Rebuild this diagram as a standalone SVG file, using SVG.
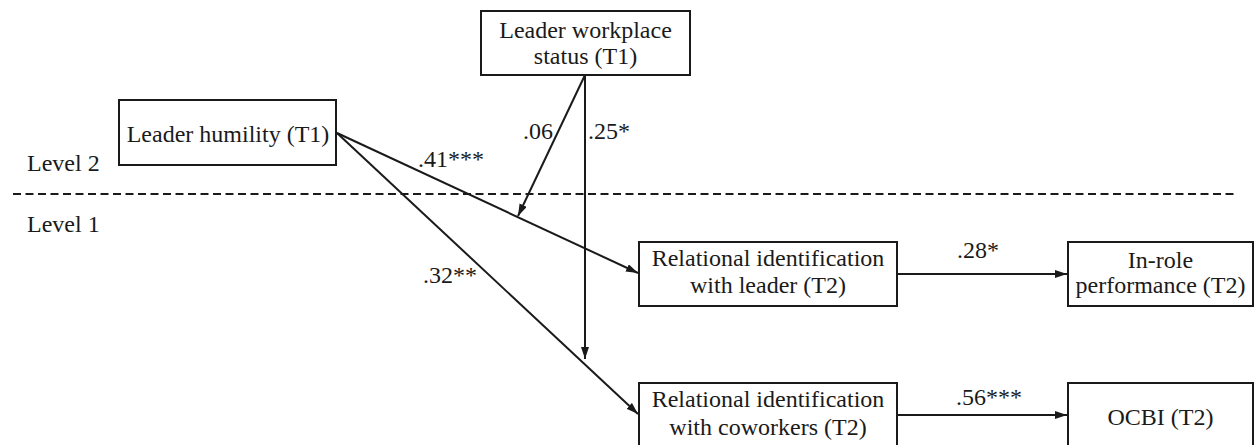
<svg xmlns="http://www.w3.org/2000/svg" width="1255" height="445" viewBox="0 0 1255 445">
<style>
.box{fill:#fff;stroke:#1a1a1a;stroke-width:2}
.t{font-family:'Liberation Serif','DejaVu Serif',serif;font-size:24px;fill:#1a1a1a}
.m{text-anchor:middle}
.ln{stroke:#1a1a1a;stroke-width:2;fill:none}
</style>
<defs>
<marker id="ah" markerUnits="userSpaceOnUse" markerWidth="14" markerHeight="10" refX="12" refY="4" orient="auto">
<path d="M0,0 L12,4 L0,8 Z" fill="#1a1a1a"/>
</marker>
</defs>
<rect width="1255" height="445" fill="#fff"/>
<g id="levels">
<line x1="13" y1="194" x2="1235" y2="194" class="ln" stroke-dasharray="8,4.5"/>
<text class="t" x="27" y="171">Level 2</text>
<text class="t" x="27" y="232">Level 1</text>
</g>
<g id="connectors">
<line class="ln" x1="337" y1="133" x2="638" y2="273" marker-end="url(#ah)"/>
<line class="ln" x1="337" y1="133" x2="638" y2="414" marker-end="url(#ah)"/>
<line class="ln" x1="585" y1="75" x2="518" y2="216" marker-end="url(#ah)"/>
<line class="ln" x1="585" y1="75" x2="585" y2="359" marker-end="url(#ah)"/>
<line class="ln" x1="897" y1="274" x2="1067" y2="274" marker-end="url(#ah)"/>
<line class="ln" x1="897" y1="415" x2="1067" y2="415" marker-end="url(#ah)"/>
<text class="t" x="418" y="167">.41***</text>
<text class="t" x="523" y="139">.06</text>
<text class="t" x="588" y="139">.25*</text>
<text class="t" x="423" y="283">.32**</text>
<text class="t" x="957" y="258">.28*</text>
<text class="t" x="956" y="405">.56***</text>
</g>
<g id="leader-status">
<rect class="box" x="481" y="11" width="209" height="64"/>
<text class="t m" x="585.5" y="38">Leader workplace</text>
<text class="t m" x="585.5" y="64">status (T1)</text>
</g>
<g id="leader-humility">
<rect class="box" x="119" y="100" width="217" height="65"/>
<text class="t m" x="228" y="142">Leader humility (T1)</text>
</g>
<g id="rel-leader">
<rect class="box" x="639" y="242" width="258" height="64"/>
<text class="t m" x="768" y="266">Relational identification</text>
<text class="t m" x="768" y="293">with leader (T2)</text>
</g>
<g id="rel-coworkers">
<rect class="box" x="639" y="383" width="258" height="66"/>
<text class="t m" x="768" y="407">Relational identification</text>
<text class="t m" x="768" y="435">with coworkers (T2)</text>
</g>
<g id="in-role">
<rect class="box" x="1068" y="242" width="185" height="64"/>
<text class="t m" x="1160.5" y="268">In-role</text>
<text class="t m" x="1160.5" y="293">performance (T2)</text>
</g>
<g id="ocbi">
<rect class="box" x="1068" y="383" width="185" height="66"/>
<text class="t m" x="1160.5" y="425">OCBI (T2)</text>
</g>
</svg>
